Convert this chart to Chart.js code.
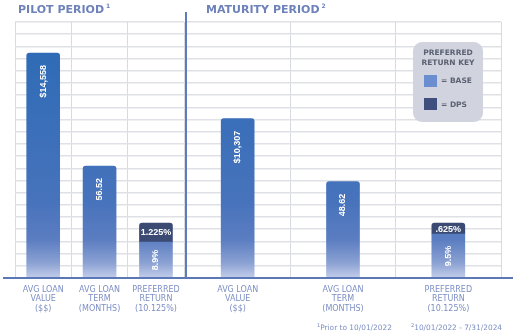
<!DOCTYPE html>
<html lang="en">
<head>
  <meta charset="UTF-8" />
  <title>Pilot vs Maturity Period</title>
  <script src="https://cdn.jsdelivr.net/npm/chart.js"></script>
  <style>
    body { margin: 0; background: #fff; font-family: "DejaVu Sans", sans-serif; }
    #wrap { position: relative; width: 518px; height: 332px; overflow: hidden; }
    .box { position: absolute; top: 0; height: 332px; }
    .title { position: absolute; top: 2px; font-weight: bold; font-size: 11px; color: #6e82ba; white-space: nowrap; }
    .title sup { font-size: 6px; vertical-align: 5px; margin-left: 2px; }
    .note { position: absolute; top: 322px; font-size: 7.4px; color: #7d8fc4; white-space: nowrap; }
    .note sup { font-size: 5px; vertical-align: 3px; }
    #key { position: absolute; left: 413px; top: 42px; width: 70px; height: 80px; background: #d1d4df; border-radius: 9px;
           font-weight: bold; font-size: 7.5px; color: #5b6172; }
    #key .hd { position: absolute; top: 6px; width: 100%; text-align: center; line-height: 10px; }
    #key .sw { position: absolute; left: 11px; width: 13px; height: 12px; }
    #key .lb { position: absolute; left: 28px; line-height: 12px; }
  </style>
</head>
<body>
<div id="wrap">
  <div class="box" style="left:0;width:187px"><canvas id="pilotChart"></canvas></div>
  <div class="box" style="left:185px;width:333px"><canvas id="maturityChart"></canvas></div>

  <div class="title" style="left:18px">PILOT PERIOD<sup>1</sup></div>
  <div class="title" style="left:206px">MATURITY PERIOD<sup>2</sup></div>

  <div id="key">
    <div class="hd">PREFERRED<br>RETURN KEY</div>
    <div class="sw" style="top:33px;background:#6b8ed0"></div><div class="lb" style="top:33px">= BASE</div>
    <div class="sw" style="top:56px;background:#3f4f7f"></div><div class="lb" style="top:57px">= DPS</div>
  </div>

  <div class="note" style="left:317px"><sup>1</sup>Prior to 10/01/2022</div>
  <div class="note" style="left:411px"><sup>2</sup>10/01/2022 - 7/31/2024</div>
</div>

<script>
  // index 0 = pilot period, 1 = maturity period
  const categories = [['AVG LOAN', 'VALUE', '($$)'], ['AVG LOAN', 'TERM', '(MONTHS)'], ['PREFERRED', 'RETURN', '(10.125%)']];
  const loanValue = [14558, 10307];
  const loanTerm = [56.52, 48.62];
  const baseReturn = [8.9, 9.5];
  const dpsReturn = [1.225, 0.625];

  const rateMax = [63.3, 55.3];   // hidden rate axis range per panel
  const dpsMinLen = [19, 11];

  function barFill(ctx) {
    const area = ctx.chart.chartArea;
    if (!area) return '#3a6db6';
    const g = ctx.chart.ctx.createLinearGradient(0, area.top, 0, area.bottom);
    g.addColorStop(0, '#2d69b5');
    g.addColorStop(0.12, '#2f6bb6');
    g.addColorStop(0.7, '#4773bc');
    g.addColorStop(0.85, '#5b7dc1');
    g.addColorStop(0.94, '#8aa1d3');
    g.addColorStop(1, '#c3cdea');
    return g;
  }

  const fmtMoney = v => '$' + v.toLocaleString('en-US');
  const fmtTerm = v => v.toFixed(2);
  const fmtPct = v => String(v).replace(/^0/, '') + '%';

  const barText = {
    id: 'barText',
    afterDatasetsDraw(chart) {
      const ctx = chart.ctx;
      ctx.save();
      ctx.fillStyle = '#ffffff';
      ctx.font = 'bold 9px "Liberation Sans"';
      chart.data.datasets.forEach((ds, di) => {
        chart.getDatasetMeta(di).data.forEach((bar, i) => {
          const v = ds.data[i];
          if (v == null) return;
          const { x, y, base } = bar.getProps(['x', 'y', 'base'], true);
          const txt = ds.fmt(v);
          ctx.save();
          if (ds.kind === 'dps') {
            ctx.textAlign = 'center';
            ctx.textBaseline = 'middle';
            ctx.fillText(txt, x, (y + base) / 2 + 0.5);
          } else if (ds.kind === 'base') {
            ctx.translate(x, (y + base) / 2);
            ctx.rotate(-Math.PI / 2);
            ctx.textAlign = 'center';
            ctx.textBaseline = 'middle';
            ctx.fillText(txt, 0, 0);
          } else {
            ctx.translate(x, y + 12);
            ctx.rotate(-Math.PI / 2);
            ctx.textAlign = 'right';
            ctx.textBaseline = 'middle';
            ctx.fillText(txt, 0, 0);
          }
          ctx.restore();
        });
      });
      ctx.restore();
    }
  };

  const frame = {
    id: 'frame',
    afterDraw(chart, args, opts) {
      const { ctx, chartArea: a } = chart;
      ctx.save();
      ctx.strokeStyle = '#5a78b8';
      ctx.lineWidth = 2;
      ctx.beginPath();
      ctx.moveTo(opts.from, a.bottom);
      ctx.lineTo(opts.to, a.bottom);
      ctx.stroke();
      if (opts.divider) {
        ctx.strokeStyle = '#5d7bbd';
        ctx.beginPath();
        ctx.moveTo(a.left + 1, 12);
        ctx.lineTo(a.left + 1, a.bottom);
        ctx.stroke();
      }
      ctx.restore();
    }
  };

  function makeChart(id, p, pad, frameOpts) {
    const n = [null, null, null];
    const only = (i, v) => n.map((_, k) => (k === i ? v : null));
    const common = { grouped: false, barThickness: 33, backgroundColor: barFill };
    const topRound = { topLeft: 3, topRight: 3, bottomLeft: 0, bottomRight: 0 };
    return new Chart(document.getElementById(id), {
      type: 'bar',
      data: {
        labels: categories,
        datasets: [
          { ...common, data: only(0, loanValue[p]), yAxisID: 'yValue', kind: 'value', fmt: fmtMoney, borderRadius: topRound },
          { ...common, data: only(1, loanTerm[p]), yAxisID: 'yTerm', kind: 'term', fmt: fmtTerm, borderRadius: topRound },
          { ...common, data: only(2, baseReturn[p]), yAxisID: 'yRate', stack: 'rate', kind: 'base', fmt: fmtPct, borderRadius: 0 },
          { ...common, data: only(2, dpsReturn[p]), yAxisID: 'yRate', stack: 'rate', kind: 'dps', fmt: fmtPct,
            backgroundColor: '#3a4a72', borderRadius: topRound, minBarLength: dpsMinLen[p] }
        ]
      },
      options: {
        responsive: true,
        maintainAspectRatio: false,
        animation: false,
        layout: { padding: pad },
        plugins: { legend: { display: false }, tooltip: { enabled: false }, frame: frameOpts },
        scales: {
          x: {
            grid: { color: '#d8dae0', lineWidth: 1, drawTicks: false },
            border: { display: false },
            ticks: { color: '#7d8fc4', font: { family: 'DejaVu Sans', size: 8 }, padding: 7, maxRotation: 0, autoSkip: false },
            afterFit: s => { s.height = 54; }
          },
          yGrid: {
            position: 'left', min: 0, max: 21,
            grid: { color: '#e0e1e6', lineWidth: 1.5, drawTicks: false },
            border: { display: false },
            ticks: { display: false, stepSize: 1 },
            afterFit: s => { s.width = 0; }
          },
          yValue: { display: false, min: 0, max: 16564 },
          yTerm: { display: false, min: 0, max: 129.2 },
          yRate: { display: false, min: 0, max: rateMax[p], stacked: true }
        }
      },
      plugins: [barText, frame]
    });
  }

  makeChart('pilotChart', 0, { top: 22, left: 15, right: 2, bottom: 0 }, { from: 3, to: 187, divider: false });
  makeChart('maturityChart', 1, { top: 22, left: 0, right: 17, bottom: 0 }, { from: 0, to: 328, divider: true });
</script>
</body>
</html>
